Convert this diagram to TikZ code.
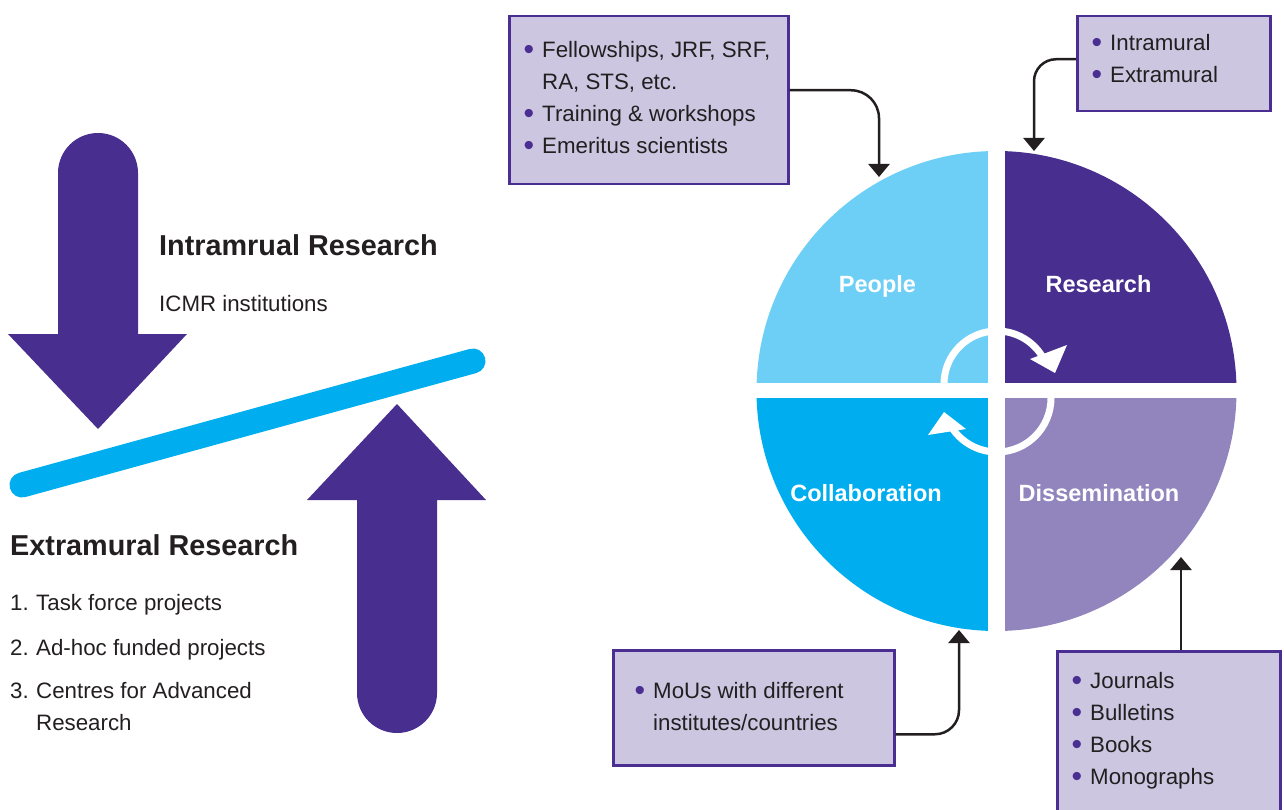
\documentclass[tikz,border=0pt]{standalone}
\usepackage{fontspec}
\setmainfont{Liberation Sans}
\usetikzlibrary{arrows.meta}
\definecolor{deep}{HTML}{482E8F}
\definecolor{peoplec}{HTML}{6DCFF6}
\definecolor{collabc}{HTML}{00AEEF}
\definecolor{dissc}{HTML}{9285BD}
\definecolor{boxfill}{HTML}{CCC6E1}
\definecolor{boxline}{HTML}{4B2E91}
\definecolor{ink}{HTML}{231F20}
\definecolor{barc}{HTML}{00AEEF}
\newcommand{\bul}{\makebox[17.5pt][l]{\hspace{-1pt}\raisebox{-2pt}{\scalebox{1.35}{\textcolor{boxline}{•}}}}}
\begin{document}
\begin{tikzpicture}[x=1pt,y=-1pt,
  infobox/.style={draw=boxline, fill=boxfill, line width=2.5pt, inner sep=0pt, anchor=north west},
  conn/.style={draw=ink, line width=2.5pt, -{Triangle[width=21pt,length=13pt]}},
  txt/.style={anchor=base west, inner sep=0pt, text=ink, font=\fontsize{22.3}{26}\selectfont},
  head/.style={anchor=base west, inner sep=0pt, text=ink, font=\bfseries\fontsize{28.8}{32}\selectfont},
  seg/.style={anchor=base, inner sep=0pt, text=white, font=\bfseries\fontsize{23.5}{28}\selectfont}]
\useasboundingbox (0,0) rectangle (1284,810);

% ---- left side: arrows and balance bar
\fill[deep] (58,334) -- (58,173) arc[start angle=180, end angle=0, radius=40pt] -- (138,334) -- (187,334) -- (98,429) -- (8,334) -- cycle;
\fill[deep] (357,500) -- (357,693) arc[start angle=180, end angle=360, radius=40pt] -- (437,500) -- (486,500) -- (397,404) -- (307,500) -- cycle;
\draw[barc, line width=25pt, line cap=round] (22,485) -- (473,361);

\node[head] (intrahead) at (159,255) {Intramrual Research};
\node[txt] (intratext) at (159,311) {ICMR institutions};
\node[head] (extrahead) at (10,555) {Extramural Research};
\node[txt] (ext1) at (10,610) {\makebox[26pt][l]{1.}Task force projects};
\node[txt] (ext2) at (10,655) {\makebox[26pt][l]{2.}Ad-hoc funded projects};
\node[txt] (ext3) at (10,698) {\makebox[26pt][l]{3.}Centres for Advanced};
\node[txt] (ext3b) at (36,730) {Research};

% ---- wheel
\node[circle, minimum size=480pt, inner sep=0pt] (wheel) at (996.5,391) {};
\begin{scope}
\clip (996.5,391) circle[radius=240pt];
\fill[peoplec] (750,145) rectangle (996.5,391);
\fill[deep] (996.5,145) rectangle (1245,391);
\fill[collabc] (750,391) rectangle (996.5,640);
\fill[dissc] (996.5,391) rectangle (1245,640);
\end{scope}
\fill[white] (988,140) rectangle (1005,642);
\fill[white] (745,383) rectangle (1248,398);

\draw[white, line width=7pt] (944,384) arc[start angle=180, end angle=28, radius=53pt];
\fill[white] (1030,359) -- (1067,345) -- (1055,373) -- cycle;
\draw[white, line width=7pt] (1051,398) arc[start angle=0, end angle=-150, radius=54pt];
\fill[white] (944,412) -- (928,435) -- (966,429) -- cycle;

\node[seg] (people) at (877.5,292) {People};
\node[seg] (research) at (1098.5,292) {Research};
\node[seg] (collab) at (866,501) {Collaboration};
\node[seg] (dissem) at (1099,501) {Dissemination};

% ---- info boxes
\node[infobox, minimum width=279pt, minimum height=168pt] (box1) at (508,15) {};
\node[txt] (b1a) at (524.5,58) {\bul Fellowships, JRF, SRF,};
\node[txt] (b1b) at (542,90) {RA, STS, etc.};
\node[txt] (b1c) at (524.5,122) {\bul Training \& workshops};
\node[txt] (b1d) at (524.5,154) {\bul Emeritus scientists};

\node[infobox, minimum width=193pt, minimum height=95pt] (box2) at (1076,15) {};
\node[txt] (b2a) at (1092.5,51) {\bul Intramural};
\node[txt] (b2b) at (1092.5,83) {\bul Extramural};

\node[infobox, minimum width=281pt, minimum height=115pt] (box3) at (612,649) {};
\node[txt] (b3a) at (635.5,698) {\bul MoUs with different};
\node[txt] (b3b) at (653,730) {institutes/countries};

\node[infobox, minimum width=223pt, minimum height=175pt] (box4) at (1056,650) {};
\node[txt] (b4a) at (1072.5,688) {\bul Journals};
\node[txt] (b4b) at (1072.5,720) {\bul Bulletins};
\node[txt] (b4c) at (1072.5,752) {\bul Books};
\node[txt] (b4d) at (1072.5,784) {\bul Monographs};

% ---- connectors
\coordinate (pin1) at (879,177);
\coordinate (pin2) at (1034,151);
\coordinate (pin3) at (959,630);
\coordinate (pin4) at (1181,557);
\draw[conn, rounded corners=28pt] ([yshift=10pt]box1.east) -| (pin1);
\draw[conn, rounded corners=22pt] ([yshift=4.5pt]box2.west) -| (pin2);
\draw[conn, rounded corners=24pt] ([yshift=-26.5pt]box3.east) -| (pin3);
\draw[conn] (box4.north -| pin4) -- (pin4);
\end{tikzpicture}
\end{document}
